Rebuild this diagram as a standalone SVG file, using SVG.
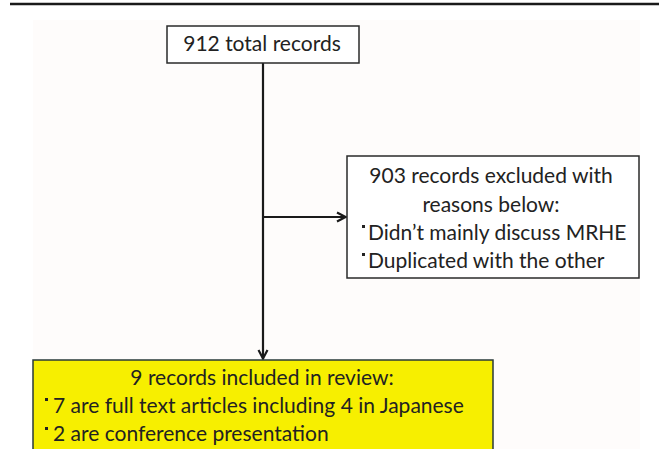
<svg xmlns="http://www.w3.org/2000/svg" width="659" height="449" viewBox="0 0 659 449">
<style>
.box{fill:#ffffff;stroke:#2a2a2a;stroke-width:1.5}
.yel{fill:#f7ef00;stroke:#2a3a3a;stroke-width:1.5}
.t{font-family:Lato,"Open Sans","Liberation Sans",sans-serif;font-size:21px;fill:#222222}
.c{text-anchor:middle}
.ln{stroke:#1a1a1a;stroke-width:2.2;fill:none}
.bul{fill:#222222}
</style>
<defs>
<marker id="ah" viewBox="0 0 12 12" refX="11" refY="6" markerWidth="12" markerHeight="12" markerUnits="userSpaceOnUse" orient="auto">
<path d="M2,1.5 L10.5,6 L2,10.5" fill="none" stroke="#1a1a1a" stroke-width="2.2"/>
</marker>
</defs>
<rect x="0" y="0" width="659" height="449" fill="#ffffff"/>
<rect x="33" y="20" width="607" height="429" fill="#fefcfb"/>
<line x1="10" y1="4" x2="659" y2="4" stroke="#1a1a1a" stroke-width="2.5"/>
<g id="connectors">
<line class="ln" x1="263" y1="63" x2="263" y2="359" marker-end="url(#ah)"/>
<line class="ln" x1="263" y1="217" x2="346" y2="217" marker-end="url(#ah)"/>
</g>
<g id="node-total">
<rect class="box" x="167" y="26" width="192" height="37"/>
<text class="t c" x="262" y="51">912 total records</text>
</g>
<g id="node-excluded">
<rect class="box" x="347" y="156" width="292" height="122"/>
<text class="t c" x="491" y="183">903 records excluded with</text>
<text class="t c" x="491" y="212">reasons below:</text>
<rect class="bul" x="362" y="225" width="3" height="3"/>
<text class="t" x="368" y="240">Didn’t mainly discuss MRHE</text>
<rect class="bul" x="362" y="253" width="3" height="3"/>
<text class="t" x="368" y="268">Duplicated with the other</text>
</g>
<g id="node-included">
<rect class="yel" x="33" y="360" width="460" height="95"/>
<text class="t c" x="262" y="385">9 records included in review:</text>
<rect class="bul" x="45" y="398" width="3" height="3"/>
<text class="t" x="53" y="413">7 are full text articles including 4 in Japanese</text>
<rect class="bul" x="45" y="427" width="3" height="3"/>
<text class="t" x="53" y="441">2 are conference presentation</text>
</g>
</svg>
